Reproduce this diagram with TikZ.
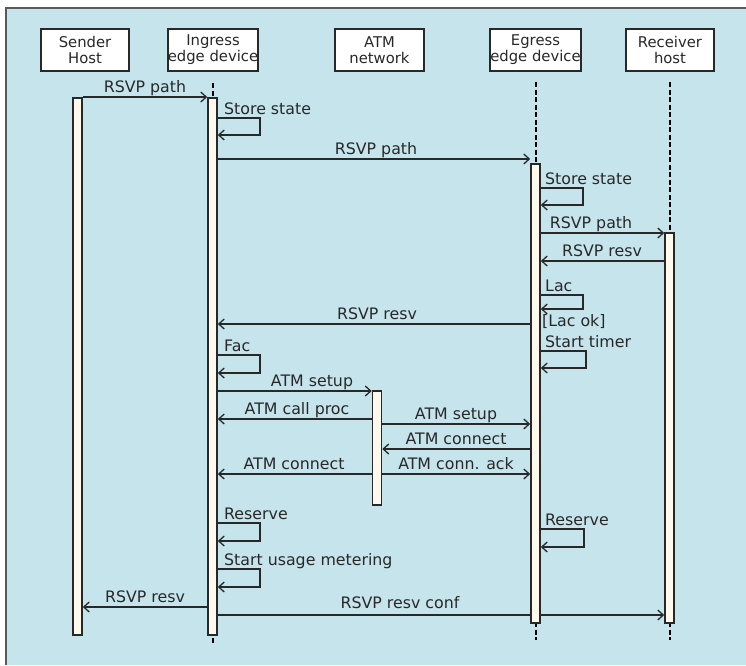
\documentclass[tikz,border=0pt]{standalone}
\usepackage{fontspec}
\setmainfont{DejaVu Sans}
\usetikzlibrary{arrows.meta}
\definecolor{bg}{RGB}{198,228,236}
\definecolor{barfill}{RGB}{255,248,236}
\definecolor{ink}{RGB}{40,40,40}
\definecolor{frame}{RGB}{90,90,90}
\begin{document}
\begin{tikzpicture}[x=1pt,y=-1pt,
  font=\fontsize{15.8}{17}\selectfont,
  head/.style={draw=ink, line width=2.2pt, fill=white, minimum height=42pt, align=center, inner sep=0pt, text=ink, font=\fontsize{14.8}{16}\selectfont},
  actbar/.style={draw=ink, line width=1.6pt, fill=barfill, minimum width=9pt, inner sep=0pt},
  msg/.style={draw=ink, line width=1.3pt, -{Straight Barb[length=5.5pt,width=10pt]}},
  lbl/.style={text=ink, inner sep=0pt, anchor=base},
  lbll/.style={text=ink, inner sep=0pt, anchor=base west},
  life/.style={draw=black, line width=2pt, dash pattern=on 5pt off 2.5pt}]
\useasboundingbox (0,0) rectangle (746,665);
\fill[white] (0,0) rectangle (746,665);
\fill[bg] (6,8) rectangle (746,665);
\draw[frame, line width=1.2pt] (6,665) -- (6,8) -- (746,8);

% header boxes
\node[head, minimum width=88pt] (hS) at (85,50) {Sender\\Host};
\node[head, minimum width=90pt] (hI) at (213,50) {Ingress\\edge device};
\node[head, minimum width=89pt] (hA) at (379.5,50) {ATM\\network};
\node[head, minimum width=91pt] (hE) at (535.5,50) {Egress\\edge device};
\node[head, minimum width=88pt] (hR) at (670,50) {Receiver\\host};

% dashed lifelines
\coordinate (iTop) at (212.5,83);
\coordinate (iBot) at (212.5,645);
\coordinate (eTop) at (535.5,82);
\coordinate (eBot) at (535.5,640);
\coordinate (rTop) at (669.5,82);
\coordinate (rBot) at (669.5,640);
\draw[life] (iTop) -- (iBot);
\draw[life] (eTop) -- (eBot);
\draw[life] (rTop) -- (rBot);

% activation bars
\node[actbar, minimum height=537pt] (sb) at (77.5,366.5) {};
\node[actbar, minimum height=537pt] (ib) at (212.5,366.5) {};
\node[actbar, minimum height=114pt] (ab) at (377,448) {};
\node[actbar, minimum height=459pt] (eb) at (535.5,393.5) {};
\node[actbar, minimum height=390pt] (rb) at (669.5,428) {};

% messages
\draw[msg] (sb.east |- 0,97) -- (ib.west |- 0,97);
\node[lbl] (l1) at (145,92) {RSVP path};

\draw[msg] (ib.east |- 0,118) -| (260,135) -- (ib.east |- 0,135);
\node[lbll] (l2) at (224,114) {Store state};

\draw[msg] (ib.east |- 0,159) -- (eb.west |- 0,159);
\node[lbl] (l3) at (376,154) {RSVP path};

\draw[msg] (eb.east |- 0,188) -| (583,205) -- (eb.east |- 0,205);
\node[lbll] (l4) at (545,184) {Store state};

\draw[msg] (eb.east |- 0,233) -- (rb.west |- 0,233);
\node[lbl] (l5) at (591,228) {RSVP path};

\draw[msg] (rb.west |- 0,261) -- (eb.east |- 0,261);
\node[lbl] (l6) at (602,256) {RSVP resv};

\draw[msg] (eb.east |- 0,295) -| (583,309) -- (eb.east |- 0,309);
\node[lbll] (l7) at (545,291) {Lac};
\node[lbll] (l8) at (542,326) {[Lac ok]};

\draw[msg] (eb.west |- 0,324) -- (ib.east |- 0,324);
\node[lbl] (l9) at (377,319) {RSVP resv};

\draw[msg] (eb.east |- 0,351) -| (586,368) -- (eb.east |- 0,368);
\node[lbll] (l10) at (545,347) {Start timer};

\draw[msg] (ib.east |- 0,355) -| (260,373) -- (ib.east |- 0,373);
\node[lbll] (l11) at (224,351) {Fac};

\draw[msg] (ib.east |- 0,391) -- (ab.west |- 0,391);
\node[lbl] (l12) at (312,386) {ATM setup};

\draw[msg] (ab.west |- 0,419) -- (ib.east |- 0,419);
\node[lbl] (l13) at (297,414) {ATM call proc};

\draw[msg] (ab.east |- 0,424) -- (eb.west |- 0,424);
\node[lbl] (l14) at (456,419) {ATM setup};

\draw[msg] (eb.west |- 0,449) -- (ab.east |- 0,449);
\node[lbl] (l15) at (456,444) {ATM connect};

\draw[msg] (ab.west |- 0,474) -- (ib.east |- 0,474);
\node[lbl] (l16) at (294,469) {ATM connect};

\draw[msg] (ab.east |- 0,474) -- (eb.west |- 0,474);
\node[lbl] (l17) at (456,469) {ATM conn. ack};

\draw[msg] (ib.east |- 0,523) -| (260,541) -- (ib.east |- 0,541);
\node[lbll] (l18) at (224,519) {Reserve};

\draw[msg] (eb.east |- 0,529) -| (584,547) -- (eb.east |- 0,547);
\node[lbll] (l19) at (545,525) {Reserve};

\draw[msg] (ib.east |- 0,569) -| (260,587) -- (ib.east |- 0,587);
\node[lbll] (l20) at (224,565) {Start usage metering};

\draw[msg] (ib.west |- 0,607) -- (sb.east |- 0,607);
\node[lbl] (l21) at (145,602) {RSVP resv};

\draw[draw=ink, line width=1.3pt] (ib.east |- 0,615) -- (eb.west |- 0,615);
\draw[msg] (eb.east |- 0,615) -- (rb.west |- 0,615);
\node[lbl] (l22) at (400,608) {RSVP resv conf};
\end{tikzpicture}
\end{document}
